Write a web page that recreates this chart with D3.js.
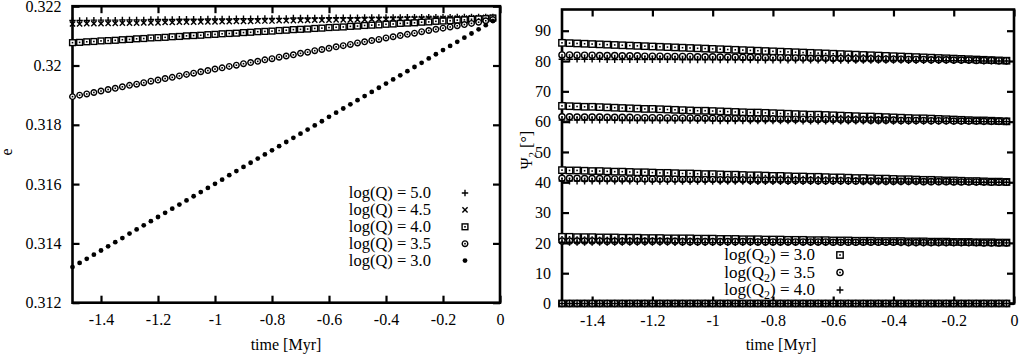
<!DOCTYPE html>
<html><head><meta charset="utf-8">
<script src="https://cdn.jsdelivr.net/npm/d3@7"></script>
<style>
body{margin:0;background:#fff;}
svg text{font-family:"Liberation Serif","Times New Roman",serif !important;fill:#000;}
</style></head><body>
<svg id="c" width="1020" height="357"></svg>
<script>
// ---------- data ----------
const time = [
-1.500,-1.475,-1.450,-1.425,-1.400,-1.375,-1.350,-1.325,-1.300,-1.275,
-1.250,-1.225,-1.200,-1.175,-1.150,-1.125,-1.100,-1.075,-1.050,-1.025,
-1.000,-0.975,-0.950,-0.925,-0.900,-0.875,-0.850,-0.825,-0.800,-0.775,
-0.750,-0.725,-0.700,-0.675,-0.650,-0.625,-0.600,-0.575,-0.550,-0.525,
-0.500,-0.475,-0.450,-0.425,-0.400,-0.375,-0.350,-0.325,-0.300,-0.275,
-0.250,-0.225,-0.200,-0.175,-0.150,-0.125,-0.100,-0.075,-0.050,-0.025];

const eQ50 = [
0.32152,0.32152,0.32152,0.32153,0.32153,0.32153,0.32153,0.32154,0.32154,0.32154,
0.32154,0.32155,0.32155,0.32155,0.32155,0.32156,0.32156,0.32156,0.32156,0.32157,
0.32157,0.32157,0.32157,0.32158,0.32158,0.32158,0.32158,0.32159,0.32159,0.32159,
0.32159,0.32160,0.32160,0.32160,0.32160,0.32160,0.32161,0.32161,0.32161,0.32161,
0.32161,0.32162,0.32162,0.32162,0.32162,0.32162,0.32162,0.32163,0.32163,0.32163,
0.32163,0.32163,0.32163,0.32163,0.32164,0.32164,0.32164,0.32164,0.32164,0.32164];
const eQ45 = [
0.32140,0.32140,0.32141,0.32141,0.32141,0.32142,0.32142,0.32143,0.32143,0.32143,
0.32144,0.32144,0.32144,0.32145,0.32145,0.32146,0.32146,0.32146,0.32147,0.32147,
0.32147,0.32148,0.32148,0.32149,0.32149,0.32149,0.32150,0.32150,0.32150,0.32151,
0.32151,0.32151,0.32152,0.32152,0.32153,0.32153,0.32153,0.32154,0.32154,0.32154,
0.32155,0.32155,0.32156,0.32156,0.32156,0.32157,0.32157,0.32157,0.32158,0.32158,
0.32159,0.32159,0.32159,0.32160,0.32160,0.32160,0.32161,0.32161,0.32162,0.32162];
const eQ40 = [
0.32077,0.32078,0.32080,0.32081,0.32083,0.32084,0.32085,0.32087,0.32088,0.32090,
0.32091,0.32093,0.32094,0.32095,0.32097,0.32098,0.32100,0.32101,0.32102,0.32104,
0.32105,0.32107,0.32108,0.32109,0.32111,0.32112,0.32114,0.32115,0.32116,0.32118,
0.32119,0.32121,0.32122,0.32123,0.32125,0.32126,0.32128,0.32129,0.32130,0.32132,
0.32133,0.32135,0.32136,0.32137,0.32139,0.32140,0.32142,0.32143,0.32144,0.32146,
0.32147,0.32149,0.32150,0.32151,0.32153,0.32154,0.32156,0.32157,0.32158,0.32160];
const eQ35 = [
0.31895,0.31900,0.31904,0.31909,0.31914,0.31919,0.31923,0.31928,0.31933,0.31937,
0.31942,0.31947,0.31951,0.31956,0.31960,0.31965,0.31970,0.31974,0.31979,0.31983,
0.31988,0.31992,0.31997,0.32001,0.32006,0.32010,0.32014,0.32019,0.32023,0.32028,
0.32032,0.32036,0.32041,0.32045,0.32050,0.32054,0.32058,0.32063,0.32067,0.32071,
0.32076,0.32080,0.32084,0.32088,0.32093,0.32097,0.32101,0.32105,0.32109,0.32114,
0.32118,0.32122,0.32126,0.32130,0.32134,0.32138,0.32142,0.32146,0.32151,0.32155];
const eQ30 = [
0.31320,0.31334,0.31348,0.31362,0.31376,0.31390,0.31404,0.31418,0.31433,0.31447,
0.31461,0.31475,0.31489,0.31503,0.31517,0.31531,0.31545,0.31559,0.31573,0.31587,
0.31601,0.31615,0.31630,0.31644,0.31658,0.31672,0.31686,0.31700,0.31714,0.31728,
0.31742,0.31756,0.31770,0.31784,0.31798,0.31812,0.31827,0.31841,0.31855,0.31869,
0.31883,0.31897,0.31911,0.31925,0.31939,0.31953,0.31967,0.31981,0.31995,0.32009,
0.32024,0.32038,0.32052,0.32066,0.32080,0.32094,0.32108,0.32122,0.32136,0.32150];

// Psi_2 series: Q2 = 10^3.0 (squares), 10^3.5 (circles), 10^4.0 (plus)
const psi30_80 = [
86.0,85.9,85.8,85.7,85.6,85.5,85.4,85.3,85.2,85.1,
85.0,84.9,84.8,84.7,84.6,84.5,84.4,84.3,84.2,84.1,
84.0,83.9,83.8,83.7,83.6,83.5,83.4,83.3,83.2,83.1,
83.0,82.9,82.8,82.7,82.6,82.5,82.4,82.3,82.2,82.1,
82.0,81.9,81.8,81.7,81.6,81.5,81.4,81.3,81.2,81.1,
81.0,80.9,80.8,80.7,80.6,80.5,80.4,80.3,80.2,80.1];
const psi30_60 = [
65.2,65.1,65.0,64.9,64.9,64.8,64.7,64.6,64.5,64.4,
64.3,64.2,64.2,64.1,64.0,63.9,63.8,63.7,63.6,63.6,
63.5,63.4,63.3,63.2,63.1,63.0,63.0,62.9,62.8,62.7,
62.6,62.5,62.4,62.3,62.3,62.2,62.1,62.0,61.9,61.8,
61.7,61.7,61.6,61.5,61.4,61.3,61.2,61.1,61.1,61.0,
60.9,60.8,60.7,60.6,60.5,60.4,60.4,60.3,60.2,60.1];
const psi30_40 = [
44.0,43.9,43.9,43.8,43.7,43.7,43.6,43.5,43.5,43.4,
43.3,43.3,43.2,43.1,43.1,43.0,42.9,42.9,42.8,42.7,
42.7,42.6,42.5,42.5,42.4,42.3,42.3,42.2,42.1,42.1,
42.0,41.9,41.9,41.8,41.8,41.7,41.6,41.6,41.5,41.4,
41.4,41.3,41.2,41.2,41.1,41.0,41.0,40.9,40.8,40.8,
40.7,40.6,40.6,40.5,40.4,40.4,40.3,40.2,40.2,40.1];
const psi30_20 = [
22.0,22.0,21.9,21.9,21.9,21.8,21.8,21.8,21.7,21.7,
21.7,21.6,21.6,21.6,21.5,21.5,21.5,21.5,21.4,21.4,
21.4,21.3,21.3,21.3,21.2,21.2,21.2,21.1,21.1,21.1,
21.0,21.0,21.0,20.9,20.9,20.9,20.8,20.8,20.8,20.7,
20.7,20.7,20.6,20.6,20.6,20.6,20.5,20.5,20.5,20.4,
20.4,20.4,20.3,20.3,20.3,20.2,20.2,20.2,20.1,20.1];
const psi30_0 = [
0,0,0,0,0,0,0,0,0,0, 0,0,0,0,0,0,0,0,0,0, 0,0,0,0,0,0,0,0,0,0,
0,0,0,0,0,0,0,0,0,0, 0,0,0,0,0,0,0,0,0,0, 0,0,0,0,0,0,0,0,0,0];

const psi35_80 = [
82.0,82.0,81.9,81.9,81.9,81.8,81.8,81.8,81.7,81.7,
81.7,81.6,81.6,81.6,81.5,81.5,81.5,81.5,81.4,81.4,
81.4,81.3,81.3,81.3,81.2,81.2,81.2,81.1,81.1,81.1,
81.0,81.0,81.0,80.9,80.9,80.9,80.8,80.8,80.8,80.7,
80.7,80.7,80.6,80.6,80.6,80.6,80.5,80.5,80.5,80.4,
80.4,80.4,80.3,80.3,80.3,80.2,80.2,80.2,80.1,80.1];
const psi35_60 = [
61.6,61.6,61.5,61.5,61.5,61.5,61.4,61.4,61.4,61.4,
61.3,61.3,61.3,61.3,61.2,61.2,61.2,61.2,61.1,61.1,
61.1,61.0,61.0,61.0,61.0,60.9,60.9,60.9,60.9,60.8,
60.8,60.8,60.8,60.7,60.7,60.7,60.7,60.6,60.6,60.6,
60.6,60.5,60.5,60.5,60.5,60.4,60.4,60.4,60.4,60.3,
60.3,60.3,60.2,60.2,60.2,60.2,60.1,60.1,60.1,60.1];
const psi35_40 = [
41.3,41.3,41.3,41.2,41.2,41.2,41.2,41.1,41.1,41.1,
41.1,41.1,41.0,41.0,41.0,41.0,40.9,40.9,40.9,40.9,
40.9,40.8,40.8,40.8,40.8,40.7,40.7,40.7,40.7,40.7,
40.6,40.6,40.6,40.6,40.5,40.5,40.5,40.5,40.5,40.4,
40.4,40.4,40.4,40.3,40.3,40.3,40.3,40.3,40.2,40.2,
40.2,40.2,40.1,40.1,40.1,40.1,40.1,40.0,40.0,40.0];
const psi35_20 = [
20.6,20.6,20.6,20.6,20.6,20.6,20.5,20.5,20.5,20.5,
20.5,20.5,20.5,20.5,20.5,20.5,20.4,20.4,20.4,20.4,
20.4,20.4,20.4,20.4,20.4,20.4,20.3,20.3,20.3,20.3,
20.3,20.3,20.3,20.3,20.3,20.3,20.2,20.2,20.2,20.2,
20.2,20.2,20.2,20.2,20.2,20.2,20.1,20.1,20.1,20.1,
20.1,20.1,20.1,20.1,20.1,20.1,20.0,20.0,20.0,20.0];
const psi35_0 = [
0,0,0,0,0,0,0,0,0,0, 0,0,0,0,0,0,0,0,0,0, 0,0,0,0,0,0,0,0,0,0,
0,0,0,0,0,0,0,0,0,0, 0,0,0,0,0,0,0,0,0,0, 0,0,0,0,0,0,0,0,0,0];

const psi40_80 = [
80.6,80.6,80.6,80.6,80.6,80.6,80.5,80.5,80.5,80.5,
80.5,80.5,80.5,80.5,80.5,80.5,80.4,80.4,80.4,80.4,
80.4,80.4,80.4,80.4,80.4,80.4,80.3,80.3,80.3,80.3,
80.3,80.3,80.3,80.3,80.3,80.3,80.2,80.2,80.2,80.2,
80.2,80.2,80.2,80.2,80.2,80.2,80.1,80.1,80.1,80.1,
80.1,80.1,80.1,80.1,80.1,80.1,80.0,80.0,80.0,80.0];
const psi40_60 = [
60.5,60.5,60.5,60.5,60.5,60.5,60.5,60.5,60.4,60.4,
60.4,60.4,60.4,60.4,60.4,60.4,60.4,60.4,60.4,60.4,
60.3,60.3,60.3,60.3,60.3,60.3,60.3,60.3,60.3,60.3,
60.3,60.3,60.2,60.2,60.2,60.2,60.2,60.2,60.2,60.2,
60.2,60.2,60.2,60.2,60.1,60.1,60.1,60.1,60.1,60.1,
60.1,60.1,60.1,60.1,60.1,60.1,60.0,60.0,60.0,60.0];
const psi40_40 = [
40.4,40.4,40.4,40.4,40.4,40.4,40.4,40.4,40.4,40.4,
40.3,40.3,40.3,40.3,40.3,40.3,40.3,40.3,40.3,40.3,
40.3,40.3,40.3,40.3,40.3,40.2,40.2,40.2,40.2,40.2,
40.2,40.2,40.2,40.2,40.2,40.2,40.2,40.2,40.2,40.2,
40.1,40.1,40.1,40.1,40.1,40.1,40.1,40.1,40.1,40.1,
40.1,40.1,40.1,40.1,40.1,40.0,40.0,40.0,40.0,40.0];
const psi40_20 = [
20.2,20.2,20.2,20.2,20.2,20.2,20.2,20.2,20.2,20.2,
20.2,20.2,20.2,20.2,20.2,20.1,20.1,20.1,20.1,20.1,
20.1,20.1,20.1,20.1,20.1,20.1,20.1,20.1,20.1,20.1,
20.1,20.1,20.1,20.1,20.1,20.1,20.1,20.1,20.1,20.1,
20.1,20.1,20.1,20.1,20.1,20.0,20.0,20.0,20.0,20.0,
20.0,20.0,20.0,20.0,20.0,20.0,20.0,20.0,20.0,20.0];
const psi40_0 = [
0,0,0,0,0,0,0,0,0,0, 0,0,0,0,0,0,0,0,0,0, 0,0,0,0,0,0,0,0,0,0,
0,0,0,0,0,0,0,0,0,0, 0,0,0,0,0,0,0,0,0,0, 0,0,0,0,0,0,0,0,0,0];

const timeTicks = [-1.4,-1.2,-1,-0.8,-0.6,-0.4,-0.2,0];
const eTicks = [0.312,0.314,0.316,0.318,0.32,0.322];
const psiTicks = [0,10,20,30,40,50,60,70,80,90];
const eLegend = ["log(Q) = 5.0","log(Q) = 4.5","log(Q) = 4.0","log(Q) = 3.5","log(Q) = 3.0"];
const psiLegend = ["3.0","3.5","4.0"];

// ---------- drawing ----------
const svg = d3.select("#c");
const FONT = "'Liberation Serif', 'Times New Roman', serif";

const xL = d3.scaleLinear().domain([-1.5, 0]).range([72.5, 500]);
const yL = d3.scaleLinear().domain([0.312, 0.322]).range([302.7, 6.2]);
const xR = d3.scaleLinear().domain([-1.5, 0]).range([562, 1014]);
const yR = d3.scaleLinear().domain([0, 97]).range([303.5, 9.5]);

function fmt(d){ return String(d); }

function drawAxes(x, y, xt, yt){
  const g = svg.append("g");
  const [x0, x1] = x.range(), [y0, y1] = y.range();
  const b = g.append("g").attr("transform", `translate(0,${y0})`)
    .call(d3.axisBottom(x).tickValues(xt).tickSize(-7).tickPadding(11).tickFormat(fmt));
  const t = g.append("g").attr("transform", `translate(0,${y1})`)
    .call(d3.axisTop(x).tickValues(xt).tickSize(-7).tickFormat(""));
  const l = g.append("g").attr("transform", `translate(${x0},0)`)
    .call(d3.axisLeft(y).tickValues(yt).tickSize(-7).tickPadding(11).tickFormat(fmt));
  const r = g.append("g").attr("transform", `translate(${x1},0)`)
    .call(d3.axisRight(y).tickValues(yt).tickSize(-7).tickFormat(""));
  [b, t, l, r].forEach(a => {
    a.select(".domain").remove();
    a.attr("font-family", null).attr("font-size", 16);
    a.selectAll("line").attr("stroke", "#000").attr("stroke-width", 2.2);
    a.selectAll("text").attr("fill", "#000").style("font-family", FONT).style("font-size", "16px");
  });
  g.append("rect").attr("x", x0).attr("y", y1).attr("width", x1 - x0).attr("height", y0 - y1)
    .attr("fill", "none").attr("stroke", "#000").attr("stroke-width", 2.6);
}

function marker(sel, type, r){
  if (type === "plus") {
    sel.append("path").attr("d", `M${-r},0H${r}M0,${-r}V${r}`)
      .attr("stroke", "#000").attr("stroke-width", 1.4).attr("fill", "none");
  } else if (type === "cross") {
    sel.append("path").attr("d", `M${-r},${-r}L${r},${r}M${-r},${r}L${r},${-r}`)
      .attr("stroke", "#000").attr("stroke-width", 1.4).attr("fill", "none");
  } else if (type === "square") {
    sel.append("rect").attr("x", -r).attr("y", -r).attr("width", 2*r).attr("height", 2*r)
      .attr("stroke", "#000").attr("stroke-width", 1.4).attr("fill", "#fff");
    sel.append("rect").attr("x", -0.8).attr("y", -0.8).attr("width", 1.6).attr("height", 1.6).attr("fill", "#000");
  } else if (type === "circle") {
    sel.append("circle").attr("r", r)
      .attr("stroke", "#000").attr("stroke-width", 1.4).attr("fill", "#fff");
    sel.append("rect").attr("x", -0.8).attr("y", -0.8).attr("width", 1.6).attr("height", 1.6).attr("fill", "#000");
  } else if (type === "dot") {
    sel.append("circle").attr("r", r).attr("fill", "#000");
  }
}

function drawSeries(x, y, vals, type, r){
  const pts = time.map((t, i) => ({t, v: vals[i]}));
  const g = svg.append("g");
  const m = g.selectAll("g").data(pts).join("g")
    .attr("transform", d => `translate(${x(d.t)},${y(d.v)})`);
  marker(m, type, r);
}

// Left panel
drawAxes(xL, yL, timeTicks, eTicks);
const leftSeries = [
  {vals: eQ50, type: "plus", r: 3.2},
  {vals: eQ45, type: "cross", r: 2.6},
  {vals: eQ40, type: "square", r: 2.9},
  {vals: eQ35, type: "circle", r: 2.8},
  {vals: eQ30, type: "dot", r: 2.4}
];
leftSeries.forEach(s => drawSeries(xL, yL, s.vals, s.type, s.r));

// left legend
leftSeries.forEach((s, i) => {
  const yy = 193 + i * 16.9;
  svg.append("text").attr("x", 431).attr("y", yy + 5.3).attr("text-anchor", "end")
    .attr("font-size", 16.5).text(eLegend[i]);
  const m = svg.append("g").attr("transform", `translate(465,${yy})`);
  marker(m, s.type, s.r);
});

// left labels
svg.append("text").attr("x", 286).attr("y", 350).attr("text-anchor", "middle")
  .attr("font-size", 16).text("time [Myr]");
svg.append("text").attr("transform", "translate(12,152) rotate(-90)").attr("text-anchor", "middle")
  .attr("font-size", 16).text("e");

// Right panel
drawAxes(xR, yR, timeTicks, psiTicks);
const rightSeries = [
  {name: "3.0", type: "square", r: 3.2, groups: [psi30_80, psi30_60, psi30_40, psi30_20, psi30_0]},
  {name: "3.5", type: "circle", r: 3.1, groups: [psi35_80, psi35_60, psi35_40, psi35_20, psi35_0]},
  {name: "4.0", type: "plus", r: 3.4, groups: [psi40_80, psi40_60, psi40_40, psi40_20, psi40_0]}
];
rightSeries.forEach(s => s.groups.forEach(vals => drawSeries(xR, yR, vals, s.type, s.r)));

// right legend
rightSeries.forEach((s, i) => {
  const yy = 255 + i * 17.5;
  const t = svg.append("text").attr("x", 815).attr("y", yy + 5.3).attr("text-anchor", "end")
    .attr("font-size", 17);
  t.append("tspan").text("log(Q");
  t.append("tspan").attr("font-size", 12).attr("dy", 4).text("2");
  t.append("tspan").attr("dy", -4).text(") = " + psiLegend[i]);
  const m = svg.append("g").attr("transform", `translate(840,${yy})`);
  marker(m, s.type, s.r);
});

svg.append("text").attr("x", 781).attr("y", 350).attr("text-anchor", "middle")
  .attr("font-size", 16).text("time [Myr]");
const yl = svg.append("text").attr("transform", "translate(532,150) rotate(-90)").attr("text-anchor", "middle")
  .attr("font-size", 16);
yl.append("tspan").text("Ψ");
yl.append("tspan").attr("font-size", 11).attr("dy", 4).text("2");
yl.append("tspan").attr("dy", -4).text(" [°]");
</script>
</body></html>
